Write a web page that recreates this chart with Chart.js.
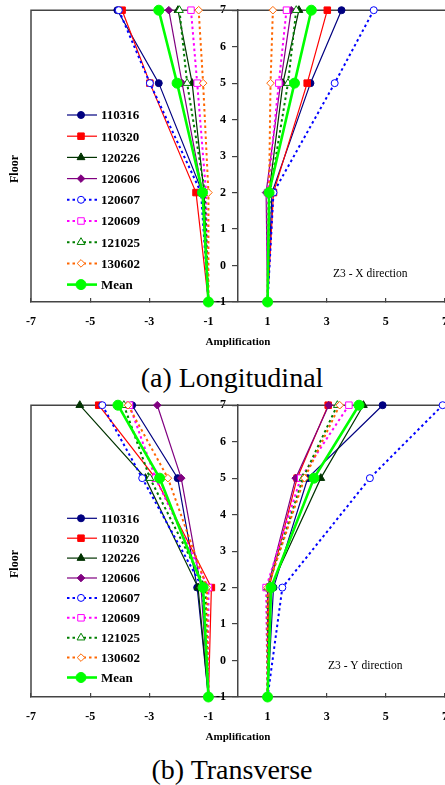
<!DOCTYPE html>
<html lang="en">
<head>
<meta charset="UTF-8" />
<title>Floor Amplification</title>
<script src="https://cdn.jsdelivr.net/npm/chart.js"></script>
<style>
  body { margin: 0; background: #fff; }
  .page { position: relative; width: 445px; height: 785px; overflow: hidden; }
  canvas { position: absolute; left: 0; }
  .caption { position: absolute; left: 0; width: 464px; text-align: center;
             font: 28px "Liberation Serif", "Times New Roman", serif; line-height: 1; }
</style>
</head>
<body>
<div class="page">
  <canvas id="longChart" width="445" height="355" style="top:0"></canvas>
  <div class="caption" style="top:364px">(a) Longitudinal</div>
  <canvas id="transChart" width="445" height="355" style="top:395px"></canvas>
  <div class="caption" style="top:756px">(b) Transverse</div>
</div>

<script>
// floors at which amplification was measured
const floors = [7, 5, 2, -1];
const seriesNames = ['110316', '110320', '120226', '120606', '120607', '120609', '121025', '130602', 'Mean'];
const xTickValues = [-7, -5, -3, -1, 1, 3, 5, 7];
const yTickValues = [-1, 0, 1, 2, 3, 4, 5, 6, 7];

// (a) longitudinal, X direction: values at floors 7, 5, 2, -1
const longNeg = [
  [-4.08, -2.68, -1.20, -1],
  [-3.92, -2.98, -1.42, -1],
  [-2.03, -1.55, -1.15, -1],
  [-2.34, -1.89, -1.20, -1],
  [-4.03, -2.98, -1.25, -1],
  [-1.59, -1.38, -1.08, -1],
  [-1.98, -1.72, -1.12, -1],
  [-1.33, -1.18, -1.00, -1],
  [-2.68, -2.06, -1.20, -1]
];
const longPos = [
  [3.50, 2.45, 1.15, 1],
  [3.02, 2.34, 1.20, 1],
  [2.06, 1.52, 1.05, 1],
  [1.80, 1.44, 0.95, 1],
  [4.59, 3.27, 1.20, 1],
  [1.64, 1.38, 1.00, 1],
  [1.97, 1.69, 1.08, 1],
  [1.18, 1.10, 1.05, 1],
  [2.48, 1.91, 1.05, 1]
];

// (b) transverse, Y direction
const transNeg = [
  [-3.58, -2.04, -1.38, -1],
  [-4.71, -2.79, -0.90, -1],
  [-5.35, -3.13, -1.35, -1],
  [-2.73, -1.92, -1.25, -1],
  [-4.59, -3.24, -1.20, -1],
  [-3.67, -2.79, -1.00, -1],
  [-3.86, -2.98, -1.10, -1],
  [-3.72, -2.37, -1.05, -1],
  [-4.06, -2.65, -1.18, -1]
];
const transPos = [
  [4.89, 2.36, 1.20, 1],
  [3.05, 2.00, 1.05, 1],
  [4.24, 2.80, 1.10, 1],
  [3.07, 1.95, 1.00, 1],
  [6.92, 4.46, 1.50, 1],
  [3.75, 2.12, 0.95, 1],
  [3.36, 2.20, 1.00, 1],
  [3.44, 2.25, 1.00, 1],
  [4.09, 2.57, 1.12, 1]
];

// look of each series
const colors = ['#000080', '#ff0000', '#003300', '#800080', '#0000ff', '#ff00ff', '#008000', '#ff6600', '#00ff00'];
const markers = ['circle', 'rect', 'triangle', 'rectRot', 'circle', 'rect', 'triangle', 'rectRot', 'circle'];
const dotted = [false, false, false, false, true, true, true, true, false];

const serif = '"Liberation Serif", "Times New Roman", serif';

function seriesStyle(i) {
  const isMean = i === seriesNames.length - 1;
  const open = dotted[i];
  let r = 3.5;
  if (markers[i] === 'rect') r = 4.6;
  if (markers[i] === 'triangle') r = 4.5;
  if (markers[i] === 'rectRot') r = 3.8;
  if (isMean) r = 5;
  return {
    borderColor: colors[i],
    borderWidth: isMean ? 2.6 : (open ? 2 : 1.2),
    borderDash: open ? [2.5, 3] : [],
    pointStyle: markers[i],
    pointRadius: r,
    pointBackgroundColor: open ? '#ffffff' : colors[i],
    pointBorderColor: colors[i],
    pointBorderWidth: 1,
    showLine: true,
    clip: false,
    order: seriesNames.length - i
  };
}

function buildDatasets(neg, pos) {
  const sets = [];
  seriesNames.forEach((name, i) => {
    const style = seriesStyle(i);
    sets.push(Object.assign({ label: name, side: 'neg',
      data: floors.map((f, k) => ({ x: neg[i][k], y: f })) }, style));
    sets.push(Object.assign({ label: name, side: 'pos',
      data: floors.map((f, k) => ({ x: pos[i][k], y: f })) }, style));
  });
  return sets;
}

function drawMarker(ctx, ds, x, y) {
  ctx.save();
  ctx.setLineDash([]);
  ctx.fillStyle = ds.pointBackgroundColor;
  ctx.strokeStyle = ds.pointBorderColor;
  ctx.lineWidth = ds.pointBorderWidth;
  if (Chart.helpers && Chart.helpers.drawPoint) {
    Chart.helpers.drawPoint(ctx, { pointStyle: ds.pointStyle, radius: ds.pointRadius,
      rotation: 0, borderWidth: ds.pointBorderWidth }, x, y);
  } else {
    ctx.beginPath();
    ctx.arc(x, y, ds.pointRadius, 0, Math.PI * 2);
    ctx.fill();
    ctx.stroke();
  }
  ctx.restore();
}

// frame, "Floor" label, direction note and the legend inside the plot
const decor = {
  id: 'decor',
  beforeDatasetsDraw(chart) {
    const { ctx, chartArea: a } = chart;
    ctx.save();
    ctx.strokeStyle = '#444';
    ctx.lineWidth = 1.5;
    ctx.beginPath();
    ctx.moveTo(a.left, a.bottom);
    ctx.lineTo(a.left, a.top);
    ctx.lineTo(a.right, a.top);
    ctx.stroke();
    ctx.restore();
  },
  afterDraw(chart, args, opts) {
    const ctx = chart.ctx;
    ctx.save();
    ctx.fillStyle = '#000';
    ctx.font = 'bold 12px ' + serif;
    ctx.textAlign = 'center';
    ctx.textBaseline = 'middle';
    ctx.translate(15, 169);
    ctx.rotate(-Math.PI / 2);
    ctx.fillText('Floor', 0, 0);
    ctx.restore();

    ctx.save();
    ctx.fillStyle = '#000';
    ctx.font = '11.5px ' + serif;
    ctx.textBaseline = 'middle';
    ctx.fillText(opts.note, opts.noteX, opts.noteY);
    ctx.restore();

    const shown = chart.data.datasets.filter(d => d.side === 'neg');
    shown.forEach((ds, i) => {
      const y = opts.legendY + i * opts.legendStep;
      ctx.save();
      ctx.strokeStyle = ds.borderColor;
      ctx.lineWidth = ds.borderWidth;
      ctx.setLineDash(ds.borderDash);
      ctx.beginPath();
      ctx.moveTo(67, y);
      ctx.lineTo(97, y);
      ctx.stroke();
      ctx.restore();
      drawMarker(ctx, ds, 81, y);
      ctx.save();
      ctx.fillStyle = '#000';
      ctx.font = 'bold 13px ' + serif;
      ctx.textBaseline = 'middle';
      ctx.fillText(ds.label, 101, y + 1);
      ctx.restore();
    });
  }
};

function makeChart(id, neg, pos, note, noteX, noteY, legendY, legendStep) {
  const tickFont = { family: serif, weight: 'bold', size: 12 };
  return new Chart(document.getElementById(id), {
    type: 'scatter',
    data: { datasets: buildDatasets(neg, pos) },
    plugins: [decor],
    options: {
      responsive: false,
      animation: false,
      devicePixelRatio: 1,
      layout: { autoPadding: false, padding: { top: 7, left: 31, right: 0, bottom: 0 } },
      plugins: {
        legend: { display: false },
        tooltip: { enabled: false },
        decor: { note, noteX, noteY, legendY, legendStep }
      },
      scales: {
        x: {
          type: 'linear', min: -7, max: 7,
          afterBuildTicks: s => { s.ticks = xTickValues.map(v => ({ value: v })); },
          afterFit: s => { s.height = 53; s.paddingLeft = 0; s.paddingRight = 0; },
          ticks: { font: tickFont, color: '#000', padding: 17, maxRotation: 0, autoSkip: false },
          grid: { drawOnChartArea: false, tickLength: -4, color: '#444', lineWidth: 1.2 },
          border: { color: '#444', width: 1.5 },
          title: { display: true, text: 'Amplification', color: '#000',
                   font: { family: serif, weight: 'bold', size: 11 }, padding: { top: 0, bottom: 6 } }
        },
        y: {
          type: 'linear', min: -1, max: 7,
          position: { x: 0 },
          afterBuildTicks: s => { s.ticks = yTickValues.map(v => ({ value: v })); },
          // labels sit right-aligned on the centre axis, so pad them off it
          ticks: { font: tickFont, color: '#000', callback: v => v + '\u2003' },
          grid: { drawOnChartArea: false, tickLength: 5, color: '#444', lineWidth: 1.2 },
          border: { color: '#444', width: 1.5 }
        }
      }
    }
  });
}

makeChart('longChart', longNeg, longPos, 'Z3 - X direction', 333, 274, 115, 21.2);
makeChart('transChart', transNeg, transPos, 'Z3 - Y direction', 328, 271, 123.3, 19.9);
</script>
</body>
</html>
